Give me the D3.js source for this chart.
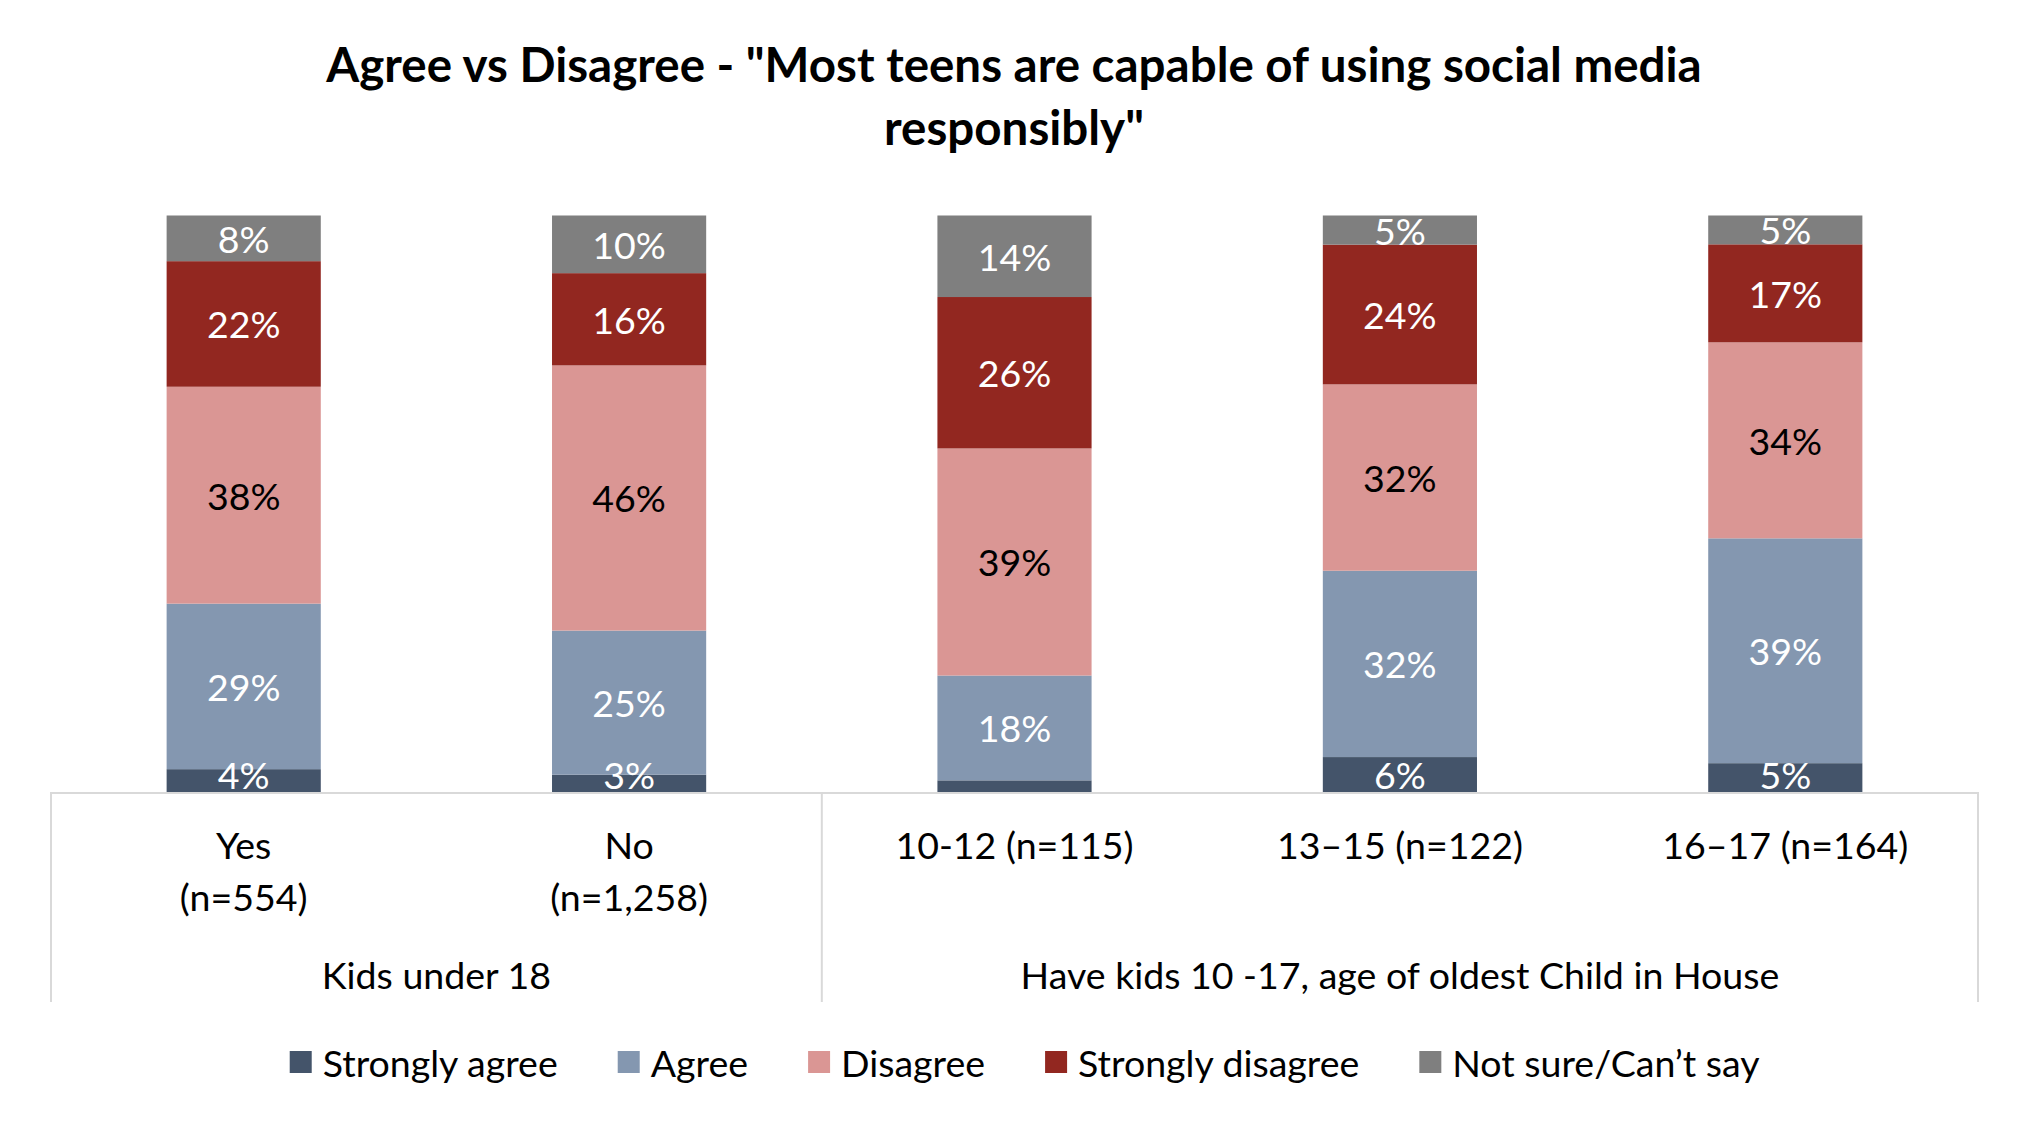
<!DOCTYPE html>
<html>
<head>
<meta charset="utf-8">
<script src="https://cdn.jsdelivr.net/npm/d3@7"></script>
<style>
  html, body { margin: 0; padding: 0; background: #fff; }
  svg { display: block; }
  text { font-family: Lato, "Open Sans", sans-serif; }
</style>
</head>
<body>
<svg id="chart" width="2029" height="1130"></svg>
<script>
// ---------- data ----------
const titleLines = ['Agree vs Disagree - "Most teens are capable of using social media', 'responsibly"'];
const categoryLines = [["Yes", "(n=554)"], ["No", "(n=1,258)"], ["10-12 (n=115)"], ["13–15 (n=122)"], ["16–17 (n=164)"]];
const groupLabels = ["Kids under 18", "Have kids 10 -17, age of oldest Child in House"];
const groupSpans = [2, 3];
const seriesNames = ["Strongly agree", "Agree", "Disagree", "Strongly disagree", "Not sure/Can’t say"];
const stronglyAgree = [4, 3, 2, 6, 5];
const agree = [29, 25, 18, 32, 39];
const disagree = [38, 46, 39, 32, 34];
const stronglyDisagree = [22, 16, 26, 24, 17];
const notSure = [8, 10, 14, 5, 5];
// data labels that are not shown in the original (series index, category index)
const hiddenLabels = [[0, 2]];

const seriesColors = ["#44546A", "#8497B0", "#DA9694", "#922720", "#7F7F7F"];
const labelColors = ["#fff", "#fff", "#000", "#fff", "#fff"];

// ---------- build ----------
const seriesValues = [stronglyAgree, agree, disagree, stronglyDisagree, notSure];
const rows = categoryLines.map((c, i) => {
  const r = { idx: i };
  seriesNames.forEach((s, j) => r[s] = seriesValues[j][i]);
  return r;
});
const stacked = d3.stack().keys(seriesNames).offset(d3.stackOffsetExpand)(rows);

const svg = d3.select("#chart");
const plotLeft = 51, plotRight = 1978, plotTop = 215.5, plotBottom = 792;
const labelSize = 37.5;

const x = d3.scaleBand().domain(d3.range(categoryLines.length))
  .range([plotLeft, plotRight]).paddingInner(0.6).paddingOuter(0.3);
const y = d3.scaleLinear().domain([0, 1]).range([plotBottom, plotTop]);

// title
svg.append("g").selectAll("text").data(titleLines).join("text")
  .attr("x", 1014).attr("y", (d, i) => 82 + i * 63)
  .attr("text-anchor", "middle")
  .attr("font-size", 47.5).attr("font-weight", 700).attr("fill", "#000")
  .text(d => d);

// bars
const layers = svg.append("g").selectAll("g").data(stacked).join("g")
  .attr("fill", (d, i) => seriesColors[i]);
layers.selectAll("rect").data(d => d).join("rect")
  .attr("x", d => x(d.data.idx))
  .attr("width", x.bandwidth())
  .attr("y", d => y(d[1]))
  .attr("height", d => y(d[0]) - y(d[1]));

// data labels (kept inside the plot area like Excel does)
const isHidden = (si, ci) => hiddenLabels.some(h => h[0] === si && h[1] === ci);
stacked.forEach((layer, si) => {
  svg.append("g").selectAll("text").data(layer.filter(d => !isHidden(si, d.data.idx))).join("text")
    .attr("x", d => x(d.data.idx) + x.bandwidth() / 2)
    .attr("y", d => Math.min((y(d[0]) + y(d[1])) / 2, plotBottom - 18))
    .attr("text-anchor", "middle")
    .attr("dominant-baseline", "central")
    .attr("font-size", labelSize)
    .attr("fill", labelColors[si])
    .text(d => d.data[layer.key] + "%");
});

// category axis (multi-level)
const axisColor = "#D9D9D9";
const axisG = svg.append("g");
axisG.append("line")
  .attr("x1", plotLeft).attr("x2", plotRight)
  .attr("y1", plotBottom + 1).attr("y2", plotBottom + 1)
  .attr("stroke", axisColor).attr("stroke-width", 2);

const step = x.step();
const boundaries = [0];
groupSpans.forEach(s => boundaries.push(boundaries[boundaries.length - 1] + s));
axisG.selectAll("line.sep").data(boundaries).join("line")
  .attr("class", "sep")
  .attr("x1", b => plotLeft + b * step).attr("x2", b => plotLeft + b * step)
  .attr("y1", plotBottom).attr("y2", 1002)
  .attr("stroke", axisColor).attr("stroke-width", 2);

// level 1 labels
categoryLines.forEach((lines, i) => {
  axisG.append("g").selectAll("text").data(lines).join("text")
    .attr("x", x(i) + x.bandwidth() / 2)
    .attr("y", (d, k) => 844 + k * 52)
    .attr("text-anchor", "middle")
    .attr("dominant-baseline", "central")
    .attr("font-size", labelSize).attr("fill", "#000")
    .text(d => d);
});

// level 2 labels
axisG.selectAll("text.group").data(groupLabels).join("text")
  .attr("class", "group")
  .attr("x", (d, i) => plotLeft + (boundaries[i] + boundaries[i + 1]) / 2 * step)
  .attr("y", 974)
  .attr("text-anchor", "middle")
  .attr("dominant-baseline", "central")
  .attr("font-size", labelSize).attr("fill", "#000")
  .text(d => d);

// legend
const legendGap = 60;
const legend = svg.append("g");
const items = legend.selectAll("g").data(seriesNames).join("g");
items.append("rect").attr("width", 22).attr("height", 22).attr("y", -11)
  .attr("fill", (d, i) => seriesColors[i]);
items.append("text").attr("x", 33).attr("y", 0)
  .attr("dominant-baseline", "central")
  .attr("font-size", labelSize).attr("fill", "#000")
  .text(d => d);
let cx = 0;
const offsets = [];
items.each(function () {
  offsets.push(cx);
  cx += this.getBBox().width + legendGap;
});
const total = cx - legendGap;
const startX = 1025 - total / 2;
items.attr("transform", (d, i) => `translate(${startX + offsets[i]},1062)`);
</script>
</body>
</html>
